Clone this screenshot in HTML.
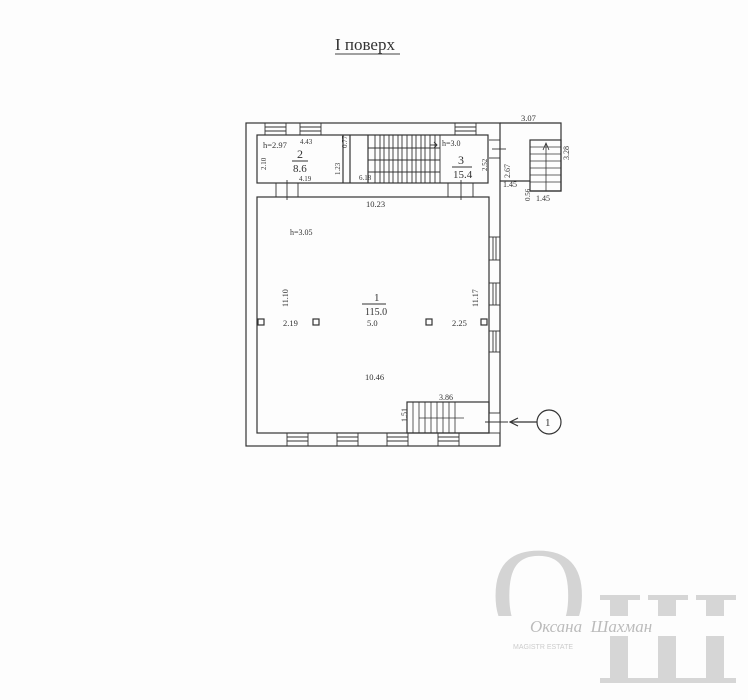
<!DOCTYPE html>
<html><head><meta charset="utf-8"><style>
html,body{margin:0;padding:0;background:#fff;}
svg{display:block}
text{font-family:"Liberation Serif",serif;fill:#333}
</style></head><body>
<svg width="748" height="700" viewBox="0 0 748 700" xmlns="http://www.w3.org/2000/svg">
<rect width="748" height="700" fill="#fdfdfd"/>
<!-- watermark -->
<g fill="#d6d6d6">
<text x="490" y="640" font-size="135" style="fill:#d4d4d4">О</text>
<rect x="488" y="616" width="112" height="84" fill="#fdfdfd"/>
<rect x="600" y="595" width="40" height="5"/>
<rect x="648" y="595" width="40" height="5"/>
<rect x="696" y="595" width="40" height="5"/>
<rect x="610" y="595" width="18" height="88"/>
<rect x="658" y="595" width="18" height="88"/>
<rect x="706" y="595" width="18" height="88"/>
<rect x="600" y="678" width="136" height="5"/>
<rect x="494" y="616" width="232" height="20" fill="#fdfdfd"/>
</g>
<text x="530" y="632" font-size="17" font-style="italic" style="fill:#bbb">Оксана&#160;&#160;Шахман</text>
<text x="513" y="649" font-size="7" style="fill:#ccc;font-family:'Liberation Sans',sans-serif">MAGISTR ESTATE</text>

<!-- title -->
<text x="335" y="50" font-size="17">І поверх</text>
<line x1="335" y1="54" x2="400" y2="54" stroke="#444" stroke-width="1"/>

<g stroke="#333" stroke-width="1.2" fill="none">
<rect x="246" y="123" width="254" height="323"/>
<rect x="257" y="135" width="231" height="48"/>
<rect x="257" y="197" width="232" height="236"/>
<polyline points="500,123 561,123 561,191 530,191"/>
<line x1="500" y1="181" x2="530" y2="181"/>
<rect x="530" y="140" width="31" height="51"/>
<g stroke-width="0.8">
<line x1="530" y1="147" x2="561" y2="147"/><line x1="530" y1="154" x2="561" y2="154"/>
<line x1="530" y1="161" x2="561" y2="161"/><line x1="530" y1="168" x2="561" y2="168"/>
<line x1="530" y1="175" x2="561" y2="175"/><line x1="530" y1="182" x2="561" y2="182"/>
<line x1="546" y1="143" x2="546" y2="191"/>
<polyline points="543,150 546,143 549,150"/>
</g>
<line x1="343" y1="135" x2="343" y2="183"/>
<line x1="350" y1="135" x2="350" y2="183"/>
<line x1="368" y1="135" x2="368" y2="183"/>
<g stroke-width="0.9">
<line x1="375" y1="135" x2="375" y2="183"/><line x1="380" y1="135" x2="380" y2="183"/>
<line x1="384" y1="135" x2="384" y2="183"/><line x1="389" y1="135" x2="389" y2="183"/>
<line x1="393" y1="135" x2="393" y2="183"/><line x1="398" y1="135" x2="398" y2="183"/>
<line x1="402" y1="135" x2="402" y2="183"/><line x1="407" y1="135" x2="407" y2="183"/>
<line x1="412" y1="135" x2="412" y2="183"/><line x1="416" y1="135" x2="416" y2="183"/>
<line x1="421" y1="135" x2="421" y2="183"/><line x1="425" y1="135" x2="425" y2="183"/>
<line x1="430" y1="135" x2="430" y2="183"/><line x1="435" y1="135" x2="435" y2="183"/>
<line x1="440" y1="135" x2="440" y2="183"/>
<polyline points="368,148 440,148"/><polyline points="368,160 440,160"/>
<polyline points="368,172 440,172"/>
<line x1="430" y1="145" x2="437" y2="145"/><polyline points="434,142 437,145 434,148"/>
</g>
<g stroke-width="0.9">
<rect x="265" y="123" width="21" height="12"/><line x1="265" y1="127" x2="286" y2="127"/><line x1="265" y1="131" x2="286" y2="131"/>
<rect x="300" y="123" width="21" height="12"/><line x1="300" y1="127" x2="321" y2="127"/><line x1="300" y1="131" x2="321" y2="131"/>
<rect x="455" y="123" width="21" height="12"/><line x1="455" y1="127" x2="476" y2="127"/><line x1="455" y1="131" x2="476" y2="131"/>
<rect x="287" y="433" width="21" height="13"/><line x1="287" y1="437" x2="308" y2="437"/><line x1="287" y1="441" x2="308" y2="441"/>
<rect x="337" y="433" width="21" height="13"/><line x1="337" y1="437" x2="358" y2="437"/><line x1="337" y1="441" x2="358" y2="441"/>
<rect x="387" y="433" width="21" height="13"/><line x1="387" y1="437" x2="408" y2="437"/><line x1="387" y1="441" x2="408" y2="441"/>
<rect x="438" y="433" width="21" height="13"/><line x1="438" y1="437" x2="459" y2="437"/><line x1="438" y1="441" x2="459" y2="441"/>
<rect x="489" y="237" width="11" height="23"/><line x1="493" y1="237" x2="493" y2="260"/><line x1="496" y1="237" x2="496" y2="260"/>
<rect x="489" y="283" width="11" height="22"/><line x1="493" y1="283" x2="493" y2="305"/><line x1="496" y1="283" x2="496" y2="305"/>
<rect x="489" y="331" width="11" height="21"/><line x1="493" y1="331" x2="493" y2="352"/><line x1="496" y1="331" x2="496" y2="352"/>
<line x1="276" y1="183" x2="276" y2="197"/><line x1="298" y1="183" x2="298" y2="197"/><line x1="287" y1="180" x2="287" y2="200"/>
<line x1="448" y1="183" x2="448" y2="197"/><line x1="473" y1="183" x2="473" y2="197"/><line x1="461" y1="180" x2="461" y2="200"/>
<line x1="489" y1="140" x2="500" y2="140"/><line x1="489" y1="158" x2="500" y2="158"/><line x1="492" y1="149" x2="506" y2="149"/>
<rect x="489" y="413" width="11" height="20" fill="#fff"/>
<line x1="485" y1="422" x2="508" y2="422"/>
</g>
<rect x="407" y="402" width="82" height="31"/>
<g stroke-width="0.8">
<line x1="413" y1="402" x2="413" y2="433"/><line x1="419" y1="402" x2="419" y2="433"/>
<line x1="425" y1="402" x2="425" y2="433"/><line x1="431" y1="402" x2="431" y2="433"/>
<line x1="437" y1="402" x2="437" y2="433"/><line x1="443" y1="402" x2="443" y2="433"/>
<line x1="449" y1="402" x2="449" y2="433"/><line x1="455" y1="402" x2="455" y2="433"/>
<line x1="419" y1="418" x2="464" y2="418"/>
</g>
<line x1="510" y1="422" x2="537" y2="422"/>
<polyline points="518,418 510,422 518,426"/>
<circle cx="549" cy="422" r="12"/>
<rect x="258" y="319" width="6" height="6"/><rect x="313" y="319" width="6" height="6"/>
<rect x="426" y="319" width="6" height="6"/><rect x="481" y="319" width="6" height="6"/>
</g>

<g font-size="8.5">
<text x="521" y="121">3.07</text>
<text x="263" y="148">h=2.97</text>
<text x="300" y="144" font-size="7">4.43</text>
<text x="297" y="158" font-size="12">2</text><line x1="292" y1="161" x2="308" y2="161" stroke="#333"/>
<text x="293" y="172" font-size="11">8.6</text>
<text x="299" y="181" font-size="7">4.19</text>
<text x="359" y="180" font-size="7">6.18</text>
<text x="442" y="146" font-size="8">h=3.0</text>
<text x="458" y="164" font-size="12">3</text><line x1="452" y1="167" x2="472" y2="167" stroke="#333"/>
<text x="453" y="178" font-size="11">15.4</text>
<text x="503" y="187" font-size="8">1.45</text>
<text x="536" y="201" font-size="8">1.45</text>
<text x="366" y="207">10.23</text>
<text x="290" y="235" font-size="8">h=3.05</text>
<text x="374" y="301" font-size="11">1</text><line x1="362" y1="304" x2="386" y2="304" stroke="#333"/>
<text x="365" y="315" font-size="10">115.0</text>
<text x="283" y="326">2.19</text>
<text x="367" y="326">5.0</text>
<text x="452" y="326">2.25</text>
<text x="365" y="380">10.46</text>
<text x="439" y="400" font-size="8">3.86</text>
<text x="545" y="426" font-size="11">1</text>
</g>
<g font-size="7">
<text transform="translate(266,170) rotate(-90)">2.10</text>
<text transform="translate(340,175) rotate(-90)">1.23</text>
<text transform="translate(347,148) rotate(-90)">0.77</text>
<text transform="translate(487,171) rotate(-90)">2.52</text>
<text transform="translate(510,178) rotate(-90)" font-size="8">2.67</text>
<text transform="translate(569,160) rotate(-90)" font-size="8">3.28</text>
<text transform="translate(530,201) rotate(-90)">0.56</text>
<text transform="translate(288,307) rotate(-90)" font-size="8">11.10</text>
<text transform="translate(478,307) rotate(-90)" font-size="8">11.17</text>
<text transform="translate(407,422) rotate(-90)" font-size="8">1.51</text>
</g>
</svg>
</body></html>
